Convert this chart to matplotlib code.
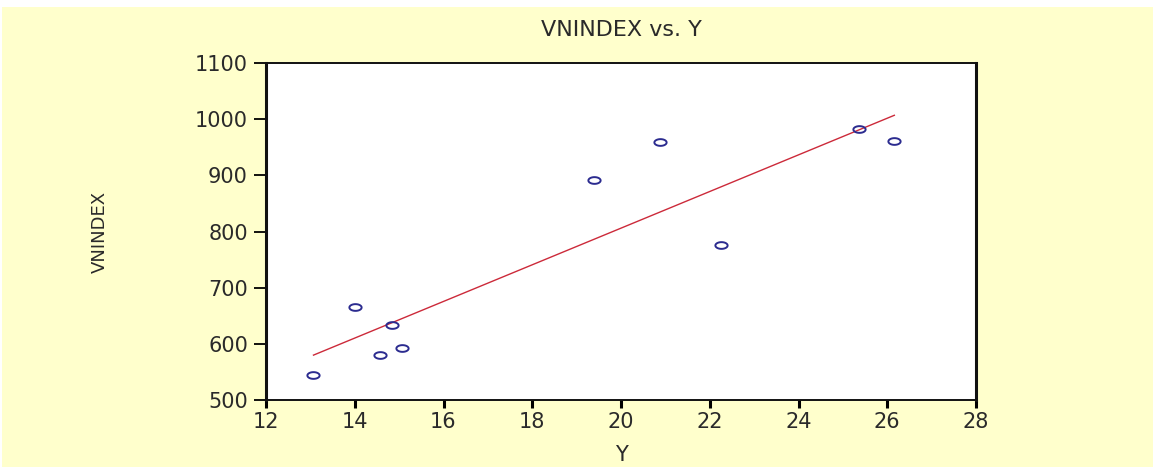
import numpy as np
import matplotlib
matplotlib.use("Agg")
import matplotlib.pyplot as plt
import matplotlib.patches as mpatches
from matplotlib.path import Path

# данные
y_vals = [13.07, 14.0, 14.84, 14.57, 15.06, 19.39, 20.89, 22.25, 25.37, 26.16]
vnindex = [545, 666, 633, 580, 593, 892, 960, 776, 983, 962]
x_ticks = [12, 14, 16, 18, 20, 22, 24, 26, 28]
y_ticks = [500, 600, 700, 800, 900, 1000, 1100]

plt.rcParams['font.family'] = ['DejaVu Sans']

W, H = 1153, 467
fig = plt.figure(figsize=(W / 100, H / 100), dpi=100, facecolor='white')

# жёлтый фон с тонкой белой рамкой сверху и слева
fig.patches.append(mpatches.Rectangle(
    (2 / W, 0), 1 - 2 / W, (H - 7) / H,
    transform=fig.transFigure, facecolor='#ffffcc', edgecolor='none', zorder=-10
))

ax = fig.add_axes([266 / W, 1 - 400 / H, 710 / W, 337 / H])
ax.set_facecolor('white')

# эллиптический маркер (исходная картинка растянута по горизонтали)
t = np.linspace(0, 2 * np.pi, 60)
ell = Path(np.column_stack([np.cos(t), 0.55 * np.sin(t)]), closed=True)

ax.plot(y_vals, vnindex, linestyle='none', marker=ell, markersize=8.8,
        markerfacecolor='none', markeredgecolor='#2b2b8f', markeredgewidth=1.4,
        zorder=3)

# линия регрессии
b, a = np.polyfit(y_vals, vnindex, 1)
xs = np.array([min(y_vals), max(y_vals)])
ax.plot(xs, a + b * xs, color='#cc2a3a', linewidth=1.0, zorder=2)

ax.set_xlim(12, 28)
ax.set_ylim(500, 1100)
ax.set_xticks(x_ticks)
ax.set_yticks(y_ticks)
ax.tick_params(direction='out', colors='black', labelcolor='#2a2a2a',
               labelsize=15)
ax.tick_params(axis='y', length=9, width=1.3, pad=4)
ax.tick_params(axis='x', length=6, width=2.2, pad=3)
for side in ['left', 'right']:
    ax.spines[side].set_linewidth(2.2)
for side in ['top', 'bottom']:
    ax.spines[side].set_linewidth(1.4)
for s in ax.spines.values():
    s.set_color('#111111')

fig.text(621 / W, 1 - 30 / H, 'VNINDEX vs. Y', ha='center', va='center',
         fontsize=16, color='#2a2a2a')
fig.text(621 / W, 1 - 455 / H, 'Y', ha='center', va='center',
         fontsize=15, color='#2a2a2a')
fig.text(100 / W, 1 - 232 / H, 'VNINDEX', ha='center', va='center',
         rotation=90, fontsize=13, color='#2a2a2a')

fig.savefig('out.png', dpi=100, facecolor=fig.get_facecolor())
